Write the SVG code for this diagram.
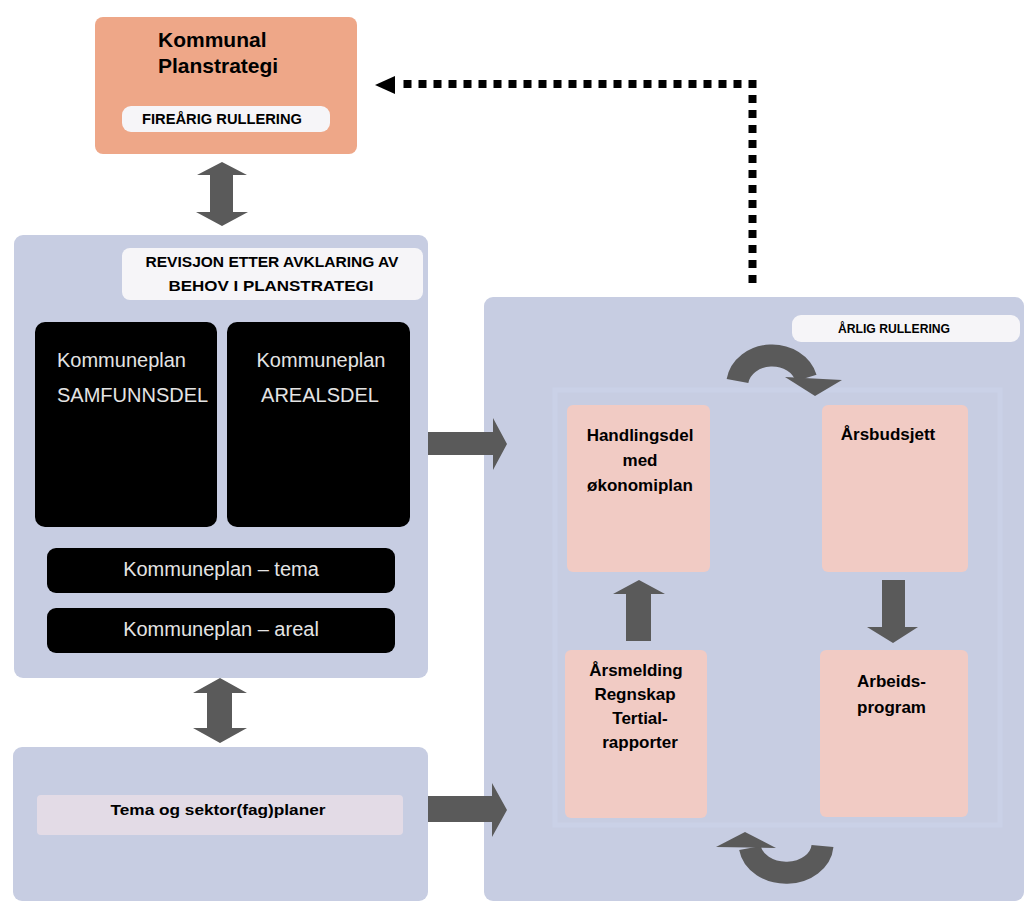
<svg xmlns="http://www.w3.org/2000/svg" width="1026" height="901" viewBox="0 0 1026 901">
<style>
.panel{fill:#c7cde2}
.pill{fill:#f6f5f8}
.dark{fill:#000}
.pink{fill:#f1cbc4}
.arr{fill:#5a5a5a}
.hb{font-family:"Liberation Sans",Arial,sans-serif;font-weight:bold;fill:#000}
.wt{font-family:"Liberation Sans",Arial,sans-serif;fill:#e4e4e4;font-size:20px}
</style>
<rect width="1026" height="901" fill="#ffffff"/>
<g id="planstrategi">
<rect x="95" y="17" width="262" height="137" rx="8" fill="#eea788"/>
<text class="hb" x="158" y="47" font-size="21">Kommunal</text>
<text class="hb" x="158" y="73" font-size="21">Planstrategi</text>
<rect x="122" y="106" width="208" height="26" rx="9" class="pill"/>
<text class="hb" x="222" y="124" font-size="14" text-anchor="middle" textLength="160" lengthAdjust="spacingAndGlyphs">FIREÅRIG RULLERING</text>
</g>
<g id="kommuneplan">
<rect x="14" y="235" width="414" height="443" rx="9" class="panel"/>
<rect x="122" y="248" width="301" height="52" rx="8" class="pill"/>
<text class="hb" x="272" y="267" font-size="14" text-anchor="middle" textLength="253" lengthAdjust="spacingAndGlyphs">REVISJON ETTER AVKLARING AV</text>
<text class="hb" x="271" y="291" font-size="14" text-anchor="middle" textLength="205" lengthAdjust="spacingAndGlyphs">BEHOV I PLANSTRATEGI</text>
<rect x="35" y="322" width="182" height="205" rx="10" class="dark"/>
<text class="wt" x="57" y="367">Kommuneplan</text>
<text class="wt" x="57" y="402">SAMFUNNSDEL</text>
<rect x="227" y="322" width="183" height="205" rx="10" class="dark"/>
<text class="wt" x="321" y="367" text-anchor="middle">Kommuneplan</text>
<text class="wt" x="320" y="402" text-anchor="middle">AREALSDEL</text>
<rect x="47" y="548" width="348" height="45" rx="9" class="dark"/>
<text class="wt" x="221" y="576" text-anchor="middle" font-size="19">Kommuneplan – tema</text>
<rect x="47" y="608" width="348" height="45" rx="9" class="dark"/>
<text class="wt" x="221" y="636" text-anchor="middle" font-size="19">Kommuneplan – areal</text>
</g>
<g id="sektorplaner">
<rect x="13" y="747" width="415" height="154" rx="9" class="panel"/>
<rect x="37" y="795" width="366" height="40" rx="4" fill="#e3dbe6"/>
<text class="hb" x="218" y="815" font-size="15" text-anchor="middle" textLength="215" lengthAdjust="spacingAndGlyphs">Tema og sektor(fag)planer</text>
</g>
<g id="arlig">
<rect x="484" y="297" width="540" height="604" rx="9" class="panel"/>
<rect x="555" y="390" width="445" height="435" fill="none" stroke="#cad1e7" stroke-width="5"/>
<rect x="792" y="315" width="228" height="27" rx="9" class="pill"/>
<text class="hb" x="894" y="333" font-size="13" text-anchor="middle" textLength="112" lengthAdjust="spacingAndGlyphs">ÅRLIG RULLERING</text>
</g>
<g id="handlingsdel">
<rect x="567" y="405" width="143" height="167" rx="6" class="pink"/>
<text class="hb" x="640" y="441" font-size="17" text-anchor="middle">Handlingsdel</text>
<text class="hb" x="640" y="466" font-size="17" text-anchor="middle">med</text>
<text class="hb" x="640" y="491" font-size="17" text-anchor="middle">økonomiplan</text>
</g>
<g id="arsbudsjett">
<rect x="822" y="405" width="146" height="167" rx="6" class="pink"/>
<text class="hb" x="888" y="440" font-size="17" text-anchor="middle">Årsbudsjett</text>
</g>
<g id="arsmelding">
<rect x="565" y="650" width="142" height="168" rx="6" class="pink"/>
<text class="hb" x="636" y="676" font-size="17" text-anchor="middle">Årsmelding</text>
<text class="hb" x="635" y="700" font-size="17" text-anchor="middle">Regnskap</text>
<text class="hb" x="640" y="724" font-size="17" text-anchor="middle">Tertial-</text>
<text class="hb" x="640" y="748" font-size="17" text-anchor="middle">rapporter</text>
</g>
<g id="arbeidsprogram">
<rect x="820" y="650" width="148" height="167" rx="6" class="pink"/>
<text class="hb" x="857" y="687" font-size="17">Arbeids-</text>
<text class="hb" x="857" y="713" font-size="17">program</text>
</g>
<g id="connectors">
<polygon class="arr" points="222,162 247,175 233,175 233,212 248,212 222,226 196,212 210,212 210,175 197,175"/>
<polygon class="arr" points="220,678 247,693 232,693 232,728 247,728 220,743 193,728 207,728 207,693 193,693"/>
<polygon class="arr" points="428,432 493,432 493,418 507,444 493,470 493,455 428,455"/>
<polygon class="arr" points="428,796 492,796 492,783 507,810 492,837 492,822 428,822"/>
<polygon class="arr" points="639,580 665,594 651,594 651,641 626,641 626,594 613,594"/>
<polygon class="arr" points="882,580 905,580 905,627 918,627 893,643 867,627 882,627"/>
<path d="M737.5,381 A35,30 0 0 1 806,378" fill="none" stroke="#5a5a5a" stroke-width="22"/>
<polygon class="arr" points="785,377 842,380 815,396"/>
<path d="M822.5,846 A36.5,29 0 0 1 750,848" fill="none" stroke="#5a5a5a" stroke-width="22"/>
<polygon class="arr" points="716,847 745,832 776,848"/>
<path d="M752.5,283 V84 H399" fill="none" stroke="#000" stroke-width="8" stroke-dasharray="8 7"/>
<polygon points="375,85 395,76 395,94" fill="#000"/>
</g>
</svg>
